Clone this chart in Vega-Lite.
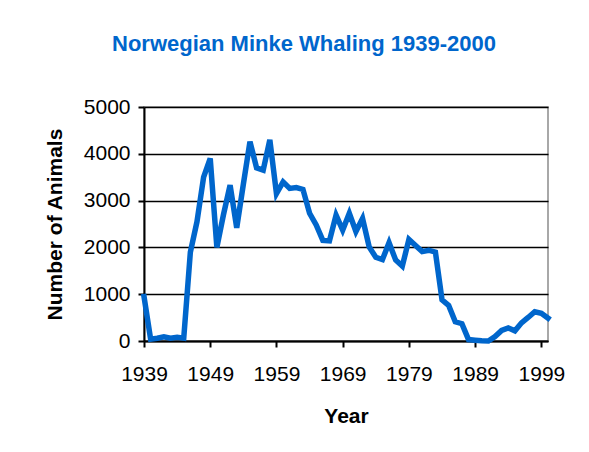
{
  "$schema": "https://vega.github.io/schema/vega-lite/v6.json",
  "autosize": "none",
  "width": 404,
  "height": 234,
  "padding": {"left": 144, "top": 107, "right": 41, "bottom": 111},
  "background": "white",
  "title": {
    "text": "Norwegian Minke Whaling 1939-2000",
    "font": "Liberation Sans",
    "fontSize": 22,
    "fontWeight": "bold",
    "color": "#0066CC",
    "anchor": "middle",
    "dx": -42,
    "baseline": "alphabetic",
    "offset": 23
  },
  "config": {
    "view": {"stroke": "#8c8c8c", "strokeWidth": 1.5, "fill": "white"},
    "font": "Liberation Sans"
  },
  "data": {
    "values": [
      {"Year": 1939, "Animals": 950},
      {"Year": 1940, "Animals": 40},
      {"Year": 1941, "Animals": 60},
      {"Year": 1942, "Animals": 90},
      {"Year": 1943, "Animals": 60},
      {"Year": 1944, "Animals": 80},
      {"Year": 1945, "Animals": 60},
      {"Year": 1946, "Animals": 1900},
      {"Year": 1947, "Animals": 2550},
      {"Year": 1948, "Animals": 3500},
      {"Year": 1949, "Animals": 3900},
      {"Year": 1950, "Animals": 2000},
      {"Year": 1951, "Animals": 2700},
      {"Year": 1952, "Animals": 3330},
      {"Year": 1953, "Animals": 2420},
      {"Year": 1954, "Animals": 3350},
      {"Year": 1955, "Animals": 4260},
      {"Year": 1956, "Animals": 3700},
      {"Year": 1957, "Animals": 3650},
      {"Year": 1958, "Animals": 4300},
      {"Year": 1959, "Animals": 3150},
      {"Year": 1960, "Animals": 3400},
      {"Year": 1961, "Animals": 3260},
      {"Year": 1962, "Animals": 3280},
      {"Year": 1963, "Animals": 3240},
      {"Year": 1964, "Animals": 2730},
      {"Year": 1965, "Animals": 2480},
      {"Year": 1966, "Animals": 2150},
      {"Year": 1967, "Animals": 2140},
      {"Year": 1968, "Animals": 2690},
      {"Year": 1969, "Animals": 2370},
      {"Year": 1970, "Animals": 2730},
      {"Year": 1971, "Animals": 2340},
      {"Year": 1972, "Animals": 2620},
      {"Year": 1973, "Animals": 2010},
      {"Year": 1974, "Animals": 1790},
      {"Year": 1975, "Animals": 1740},
      {"Year": 1976, "Animals": 2100},
      {"Year": 1977, "Animals": 1730},
      {"Year": 1978, "Animals": 1600},
      {"Year": 1979, "Animals": 2170},
      {"Year": 1980, "Animals": 2040},
      {"Year": 1981, "Animals": 1910},
      {"Year": 1982, "Animals": 1940},
      {"Year": 1983, "Animals": 1900},
      {"Year": 1984, "Animals": 880},
      {"Year": 1985, "Animals": 760},
      {"Year": 1986, "Animals": 410},
      {"Year": 1987, "Animals": 370},
      {"Year": 1988, "Animals": 30},
      {"Year": 1989, "Animals": 17},
      {"Year": 1990, "Animals": 5},
      {"Year": 1991, "Animals": 0},
      {"Year": 1992, "Animals": 95},
      {"Year": 1993, "Animals": 226},
      {"Year": 1994, "Animals": 279},
      {"Year": 1995, "Animals": 217},
      {"Year": 1996, "Animals": 388},
      {"Year": 1997, "Animals": 503},
      {"Year": 1998, "Animals": 625},
      {"Year": 1999, "Animals": 591},
      {"Year": 2000, "Animals": 487}
    ]
  },
  "mark": {"type": "line", "color": "#0066CC", "strokeWidth": 5.5, "strokeJoin": "miter", "strokeCap": "square"},
  "encoding": {
    "x": {
      "field": "Year",
      "type": "quantitative",
      "scale": {"domain": [1939, 2000], "nice": false, "zero": false},
      "axis": {
        "values": [1939, 1949, 1959, 1969, 1979, 1989, 1999],
        "format": "d",
        "grid": false,
        "domainColor": "black",
        "domainWidth": 2,
        "tickColor": "black",
        "tickWidth": 2,
        "tickSize": 6,
        "labelFont": "Liberation Sans",
        "labelFontSize": 21,
        "labelColor": "black",
        "labelPadding": 16,
        "labelFlush": false,
        "title": "Year",
        "titleFont": "Liberation Sans",
        "titleFontSize": 21,
        "titleFontWeight": "bold",
        "titleColor": "black",
        "titlePadding": 21
      }
    },
    "y": {
      "field": "Animals",
      "type": "quantitative",
      "scale": {"domain": [0, 5000], "nice": false},
      "axis": {
        "values": [0, 1000, 2000, 3000, 4000, 5000],
        "format": "d",
        "grid": true,
        "gridColor": "black",
        "gridWidth": 1.5,
        "domainColor": "black",
        "domainWidth": 2,
        "tickColor": "black",
        "tickWidth": 2,
        "tickSize": 6,
        "labelFont": "Liberation Sans",
        "labelFontSize": 21,
        "labelColor": "black",
        "labelPadding": 8,
        "labelFlush": false,
        "title": "Number of Animals",
        "titleFont": "Liberation Sans",
        "titleFontSize": 21,
        "titleFontWeight": "bold",
        "titleColor": "black",
        "titlePadding": 18
      }
    }
  }
}
